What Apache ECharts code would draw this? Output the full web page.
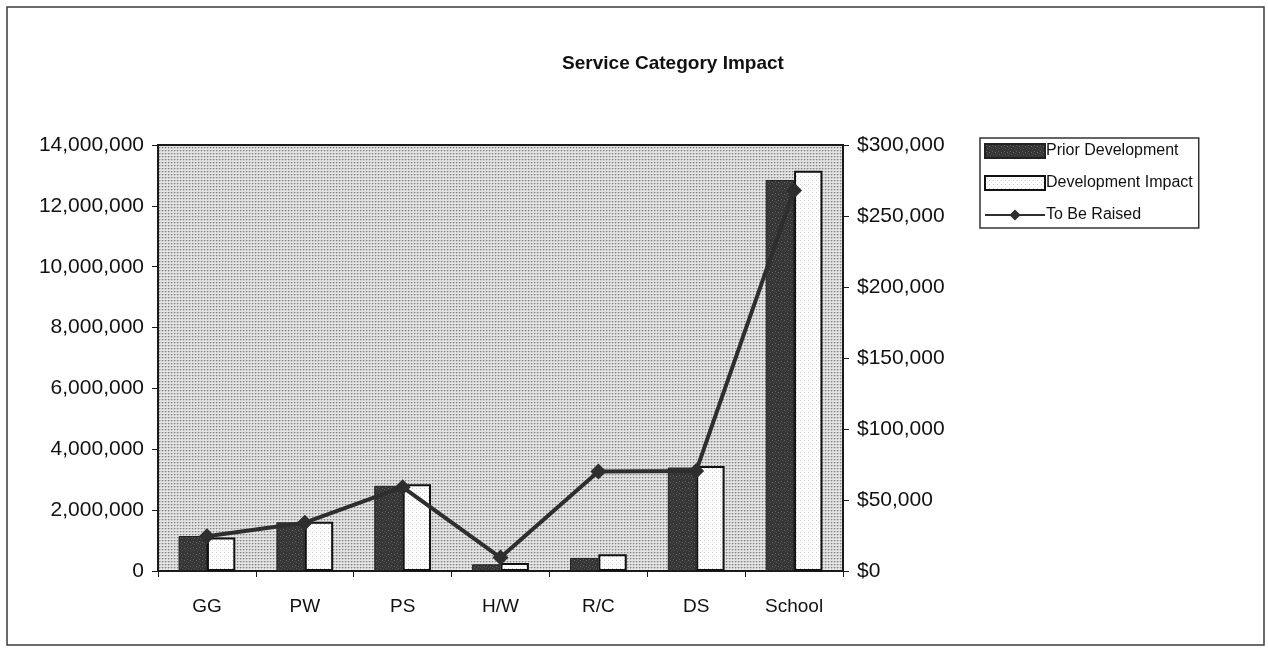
<!DOCTYPE html>
<html>
<head>
<meta charset="utf-8">
<script src="https://cdn.jsdelivr.net/npm/echarts@6/dist/echarts.min.js"></script>
<style>
  html, body { margin: 0; padding: 0; background: #fff; }
  #chart { width: 1268px; height: 648px; }
</style>
</head>
<body>
<div id="chart"></div>
<script>
// Service categories along the x axis
const categories = ['GG', 'PW', 'PS', 'H/W', 'R/C', 'DS', 'School'];
// Left axis (units) – bar series
const priorDevelopment = [1150000, 1600000, 2800000, 220000, 430000, 3400000, 12850000];
const developmentImpact = [1100000, 1620000, 2850000, 260000, 550000, 3450000, 13150000];
// Right axis (dollars) – line series
const toBeRaised = [24500, 34000, 59000, 9500, 70000, 70500, 268000];

// Axis ranges
const leftMax = 14000000, leftStep = 2000000;
const rightMax = 300000, rightStep = 50000;

const FONT = '"Liberation Sans", Arial, sans-serif';

function makeTile(size, base, dots) {
  const c = document.createElement('canvas');
  c.width = size; c.height = size;
  const g = c.getContext('2d');
  g.fillStyle = base;
  g.fillRect(0, 0, size, size);
  dots.forEach(d => { g.fillStyle = d[2]; g.fillRect(d[0], d[1], 1, 1); });
  return { image: c, repeat: 'repeat' };
}

// Dotted grey plot background
const plotFill = makeTile(3, '#e3e3e3', [[0, 0, '#888888'], [1, 0, '#bdbdbd'], [0, 1, '#bdbdbd'], [2, 0, '#cfcfcf']]);
// Speckled dark fill for the first bar series
const darkFill = makeTile(6, '#363636', [[1, 1, '#5e5e5e'], [4, 2, '#666'], [2, 4, '#555'], [5, 5, '#4a4a4a'], [0, 3, '#4e4e4e']]);
// Nearly white fill with faint dots for the second bar series
const lightFill = makeTile(4, '#ffffff', [[0, 0, '#c8c8c8'], [2, 2, '#e2e2e2']]);

const fmt = v => Math.round(v).toString().replace(/\B(?=(\d{3})+(?!\d))/g, ',');

const chart = echarts.init(document.getElementById('chart'), null, { renderer: 'canvas' });
chart.setOption({
  backgroundColor: '#ffffff',
  animation: false,
  textStyle: { fontFamily: FONT, color: '#111' },
  title: {
    text: 'Service Category Impact',
    left: 668, top: 49, textAlign: 'center',
    textStyle: { fontFamily: FONT, fontSize: 19, fontWeight: 'bold', color: '#111' }
  },
  legend: {
    left: 980, top: 138,
    orient: 'vertical',
    itemWidth: 60, itemHeight: 14, itemGap: 16,
    padding: [5, 6, 5, 4],
    borderColor: '#333', borderWidth: 1.5, borderRadius: 0,
    textStyle: { fontFamily: FONT, fontSize: 16, color: '#111', padding: [0, 0, 0, -4] },
    data: [
      { name: 'Prior Development', icon: 'rect' },
      { name: 'Development Impact', icon: 'rect' },
      { name: 'To Be Raised' }
    ]
  },
  grid: {
    left: 158, right: 425, top: 145, bottom: 77,
    show: true, backgroundColor: plotFill,
    borderColor: '#1a1a1a', borderWidth: 2
  },
  xAxis: {
    type: 'category',
    data: categories,
    axisLine: { show: true, lineStyle: { color: '#1a1a1a', width: 2 } },
    axisTick: { show: true, length: 6, lineStyle: { color: '#1a1a1a', width: 1 } },
    axisLabel: { fontFamily: FONT, fontSize: 19, color: '#111', margin: 26 },
    splitLine: { show: false }
  },
  yAxis: [
    {
      type: 'value', min: 0, max: leftMax, interval: leftStep, position: 'left',
      axisLine: { show: true, lineStyle: { color: '#1a1a1a', width: 2 } },
      axisTick: { show: true, length: 6, lineStyle: { color: '#1a1a1a', width: 1 } },
      axisLabel: { fontFamily: FONT, fontSize: 21, color: '#111', margin: 14, formatter: v => fmt(v) },
      splitLine: { show: false }
    },
    {
      type: 'value', min: 0, max: rightMax, interval: rightStep, position: 'right',
      axisLine: { show: true, lineStyle: { color: '#1a1a1a', width: 2 } },
      axisTick: { show: true, length: 6, lineStyle: { color: '#1a1a1a', width: 1 } },
      axisLabel: { fontFamily: FONT, fontSize: 21, color: '#111', margin: 14, formatter: v => '$' + fmt(v) },
      splitLine: { show: false }
    }
  ],
  series: [
    {
      name: 'Prior Development', type: 'bar', yAxisIndex: 0,
      data: priorDevelopment,
      barGap: '0%', barCategoryGap: '42%',
      itemStyle: { color: darkFill, borderColor: '#222', borderWidth: 1 },
      z: 2
    },
    {
      name: 'Development Impact', type: 'bar', yAxisIndex: 0,
      data: developmentImpact,
      barGap: '0%', barCategoryGap: '42%',
      itemStyle: { color: lightFill, borderColor: '#111', borderWidth: 2 },
      z: 2
    },
    {
      name: 'To Be Raised', type: 'line', yAxisIndex: 1,
      data: toBeRaised,
      symbol: 'diamond', symbolSize: 16,
      lineStyle: { color: '#2e2e2e', width: 4 },
      itemStyle: { color: '#2e2e2e' },
      z: 5
    }
  ],
  graphic: [
    {
      type: 'rect', silent: true, z: -1,
      shape: { x: 7, y: 7, width: 1257, height: 638 },
      style: { fill: null, stroke: '#3a3a3a', lineWidth: 1.5 }
    }
  ]
});
</script>
</body>
</html>
